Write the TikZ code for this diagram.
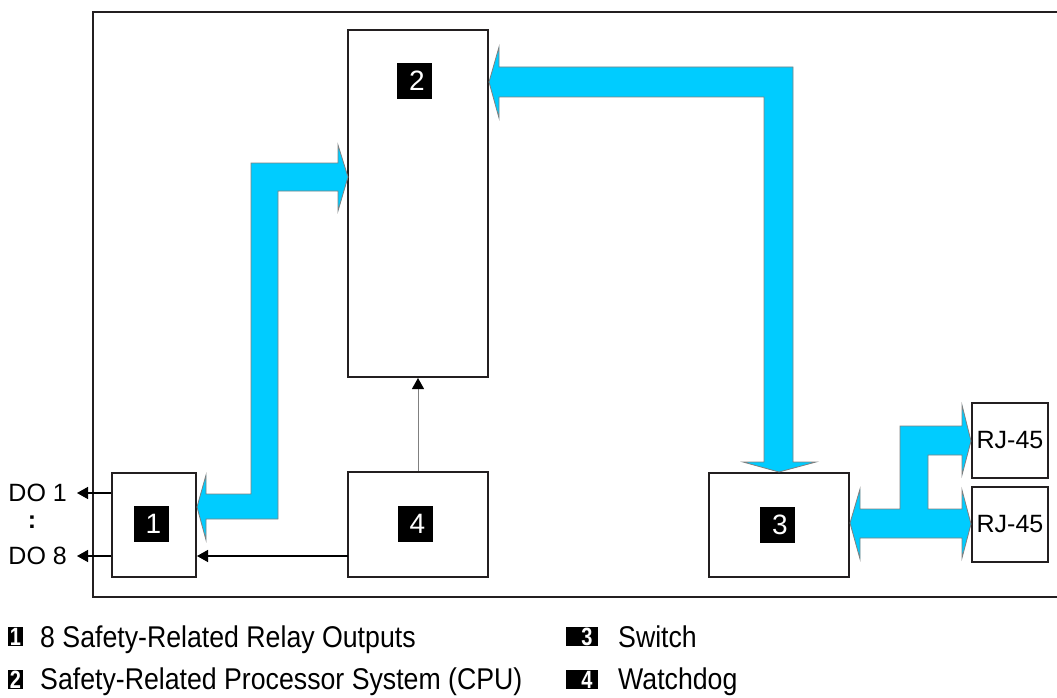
\documentclass[tikz,border=0pt]{standalone}
\usepackage{fontspec}
\setmainfont{Liberation Sans}
\newfontfamily\narrowfont[FakeStretch=0.89]{Liberation Sans}
\newfontfamily\narrowbadge[FakeStretch=0.8]{Liberation Sans}
\usetikzlibrary{arrows.meta,calc}
\definecolor{busblue}{RGB}{0,204,255}
\definecolor{edge}{RGB}{35,31,32}
\tikzset{
  box/.style={draw=edge, line width=2pt, fill=white, inner sep=0pt},
  badge/.style={fill=black, text=white, minimum width=35pt, minimum height=36pt, inner sep=0pt, font=\fontsize{28}{28}\selectfont},
  lbadge/.style={fill=black, text=white, minimum height=19pt, inner sep=0pt, font=\narrowbadge\bfseries\fontsize{25}{25}\selectfont},
  bus/.style={fill=busblue, draw=gray, line width=0.8pt, line join=miter},
  thinarr/.style={draw=black, line width=1.4pt, -{Triangle[length=11pt,width=12pt]}},
  lbl/.style={font=\fontsize{25}{25}\selectfont, inner sep=0pt},
  legend/.style={font=\narrowfont\fontsize{30}{30}\selectfont, inner sep=0pt, anchor=base west}
}
\begin{document}
\begin{tikzpicture}[x=1pt,y=-1pt]
\useasboundingbox (0,0) rectangle (1057,698);
% outer frame
\draw[edge, line width=2pt] (1057,12) -- (93,12) -- (93,597) -- (1057,597);

% boxes
\node[box, minimum width=140pt, minimum height=347pt] (b2) at (418,203.5) {};
\node[box, minimum width=84pt, minimum height=104pt] (b1) at (154,525) {};
\node[box, minimum width=140pt, minimum height=105pt] (b4) at (418,524.5) {};
\node[box, minimum width=140pt, minimum height=104pt] (b3) at (779,525) {};
\node[box, minimum width=76pt, minimum height=75pt, lbl] (rj1) at (1010,440.5) {RJ-45};
\node[box, minimum width=76pt, minimum height=75pt, lbl] (rj2) at (1010,524.5) {RJ-45};

% badges
\node[badge] (n2) at (414.5,81) {\hspace*{5pt}2};
\node[badge] (n1) at (151,524) {\hspace*{5pt}1};
\node[badge] (n4) at (415,524) {\hspace*{5pt}4};
\node[badge] (n3) at (777.5,525) {\hspace*{5pt}3};

% bus arrows
\draw[bus] (251,163) -- (338,163) -- (338,145) -- (348,177) -- (338,211) -- (338,191)
  -- (278,191) -- (278,519) -- (206,519) -- (206,540) -- (197,507) -- (206,475)
  -- (206,494) -- (251,494) -- cycle;
\draw[bus] (489,82) -- (499,47) -- (499,67) -- (793,67) -- (793,462) -- (816,462)
  -- (779,472) -- (743,462) -- (764,462) -- (764,97) -- (499,97) -- (499,118) -- cycle;
\draw[bus] (850,523) -- (860,489) -- (860,509) -- (900,509) -- (900,426) -- (962,426)
  -- (962,405) -- (971,441) -- (962,475) -- (962,455) -- (928,455) -- (928,509)
  -- (962,509) -- (962,490) -- (971,524) -- (962,558) -- (962,538) -- (860,538)
  -- (860,559) -- cycle;

% thin arrows
\draw[thinarr, draw=gray, line width=1pt, -{Triangle[length=11pt,width=12pt,color=black]}] (b4.north) -- (b2.south);
\coordinate (w4) at (348,556);
\draw[thinarr] (w4) -- (w4 -| b1.east);
\coordinate (do1) at (77,493);
\coordinate (do8) at (77,556);
\draw[thinarr] (b1.west |- do1) -- (do1);
\draw[thinarr] (b1.west |- do8) -- (do8);
\node[lbl, anchor=east] (t1) at (67,493) {DO 1};
\node[lbl, font=\bfseries\fontsize{25}{25}\selectfont] (tc) at (32,522) {:};
\node[lbl, anchor=east] (t8) at (67,556) {DO 8};

% legend
\node[lbadge, minimum width=15pt] (l1) at (15.5,636.5) {1};
\node[legend] (lt1) at (40,647) {8 Safety-Related Relay Outputs};
\node[lbadge, minimum width=15pt] (l2) at (15.5,679.5) {2};
\node[legend] (lt2) at (40,689) {Safety-Related Processor System (CPU)};
\node[lbadge, minimum width=32pt] (l3) at (582,636.5) {\hspace*{10pt}3};
\node[legend] (lt3) at (618,647) {Switch};
\node[lbadge, minimum width=32pt] (l4) at (582,679.5) {\hspace*{10pt}4};
\node[legend] (lt4) at (618,689) {Watchdog};
\end{tikzpicture}
\end{document}
